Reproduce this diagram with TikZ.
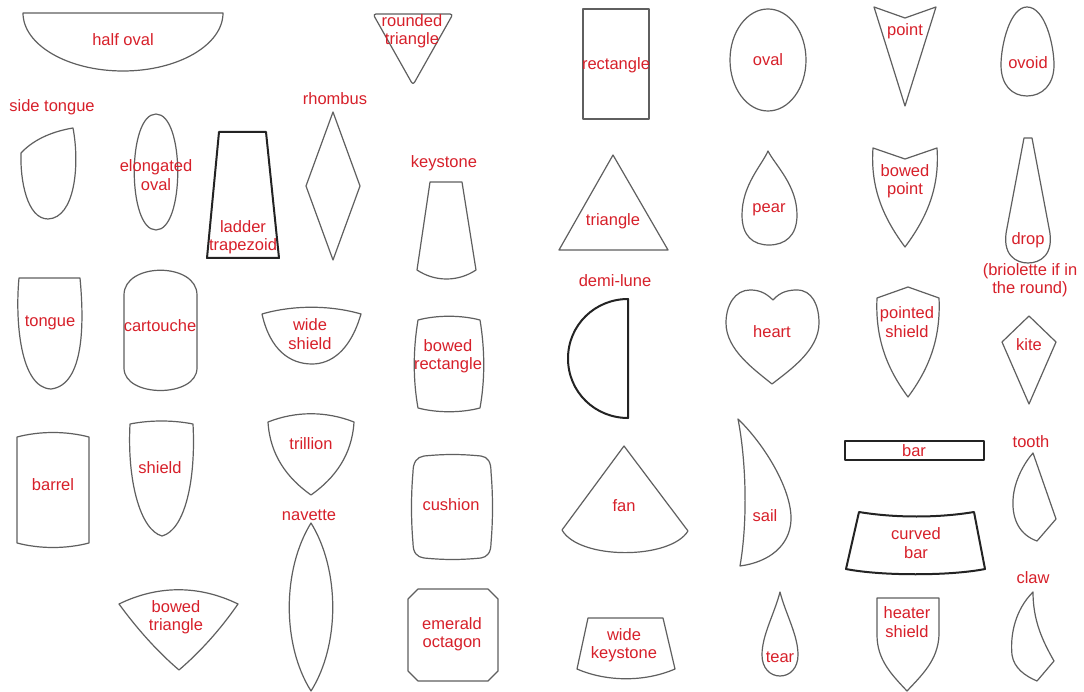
\documentclass[tikz,border=0pt]{standalone}
\usepackage{fontspec}
\setmainfont{Liberation Sans}
\usepackage{tikz}
\usetikzlibrary{positioning}
\definecolor{cutline}{RGB}{95,95,95}
\definecolor{cutdark}{RGB}{35,35,35}
\definecolor{cutred}{RGB}{215,32,42}
\tikzset{
  cut/.style={draw=cutline, line width=1.2pt, line join=round},
  cutbold/.style={draw=cutdark, line width=2pt, line join=round},
  cutname/.style={text=cutred, inner sep=0pt, align=center,
                  font=\fontsize{16.5}{18.5}\selectfont}
}
\begin{document}
\begin{tikzpicture}[x=1pt, y=-1pt]
  \useasboundingbox[fill=white] (0,0) rectangle (1084,692);

  % left half
  \draw[cut] (23,13) .. controls (23,45) and (68,71) .. (123,71) .. controls (178,71) and (223,45) .. (223,13) -- cycle;
  \draw[cut] (21,153) .. controls (35,138) and (55,131) .. (73,128) .. controls (80,165) and (75,218) .. (48,219) .. controls (27,219) and (20,180) .. cycle;
  \draw[cut] (156,114) .. controls (185,114) and (185,230) .. (156,230) .. controls (127,230) and (127,114) .. cycle;
  \draw[cutbold] (219,132) -- (266,132) -- (279,258) -- (207,258) -- cycle;
  \draw[cut, rounded corners=3pt] (373,14) -- (453,14) -- (413,85) -- cycle;
  \draw[cut] (333,112) -- (360,186) -- (333,260) -- (306,186) -- cycle;
  \draw[cut] (430,182) -- (462,182) -- (476,270) .. controls (458,282) and (435,282) .. (417,270) -- cycle;
  \draw[cut] (19,278) -- (80,278) .. controls (84,320) and (85,385) .. (51,389) .. controls (20,388) and (15,320) .. cycle;
  \draw[cut] (124,295) .. controls (124,262) and (197,262) .. (197,295) -- (197,368) .. controls (197,398) and (124,398) .. (124,368) -- cycle;
  \draw[cut] (262,314) .. controls (293,305) and (330,305) .. (361,314) .. controls (350,352) and (330,364) .. (312,364) .. controls (290,364) and (270,350) .. cycle;
  \draw[cut] (418,320) .. controls (437,315) and (461,315) .. (480,320) .. controls (485,350) and (485,380) .. (480,408) .. controls (461,413) and (437,413) .. (418,408) .. controls (413,380) and (413,350) .. cycle;
  \draw[cut] (17,437) .. controls (40,431) and (66,431) .. (89,437) -- (89,543) .. controls (66,549) and (40,549) .. (17,543) -- cycle;
  \draw[cut] (130,424) .. controls (150,420) and (173,420) .. (193,424) .. controls (196,480) and (185,530) .. (162,536) .. controls (140,530) and (127,480) .. cycle;
  \draw[cut] (268,422) .. controls (296,411) and (326,411) .. (354,422) .. controls (352,455) and (335,478) .. (311,495) .. controls (287,478) and (270,455) .. cycle;
  \draw[cut] (311,523) .. controls (340,570) and (340,645) .. (311,691) .. controls (282,645) and (282,570) .. cycle;
  \draw[cut] (424,456) .. controls (445,454) and (460,454) .. (481,456) .. controls (488,457) and (491,462) .. (491,472) .. controls (493,495) and (493,520) .. (491,543) .. controls (491,553) and (487,557) .. (481,558) .. controls (460,560) and (445,560) .. (424,558) .. controls (417,557) and (413,553) .. (413,543) .. controls (411,520) and (411,495) .. (413,472) .. controls (413,462) and (417,457) .. cycle;
  \draw[cut] (119,604) .. controls (158,585) and (199,585) .. (238,604) .. controls (220,630) and (200,652) .. (179,670) .. controls (158,652) and (138,630) .. cycle;
  \draw[cut] (418,589) -- (488,589) -- (498,599) -- (498,671) -- (488,681) -- (418,681) -- (408,671) -- (408,599) -- cycle;

  % right half
  \draw[cut] (583,9) rectangle (649,119);
  \draw[cut] (768,60) ellipse [x radius=38, y radius=51];
  \draw[cut] (874,7) -- (905,18) -- (936,7) -- (905,106) -- cycle;
  \draw[cut] (1027,7) .. controls (1045,7) and (1054,45) .. (1054,65) .. controls (1054,85) and (1042,96) .. (1027,96) .. controls (1012,96) and (1001,85) .. (1001,65) .. controls (1001,45) and (1010,7) .. cycle;
  \draw[cut] (613,155) -- (668,250) -- (559,250) -- cycle;
  \draw[cut] (768,151) .. controls (775,165) and (797,185) .. (797,215) .. controls (797,236) and (785,245) .. (769,245) .. controls (753,245) and (742,236) .. (742,215) .. controls (742,185) and (762,165) .. cycle;
  \draw[cut] (873,148) -- (905,159) -- (937,148) .. controls (940,190) and (925,220) .. (905,247) .. controls (885,220) and (870,190) .. cycle;
  \draw[cut] (1024,138) -- (1032,138) -- (1049,228) .. controls (1055,255) and (1040,263) .. (1028,263) .. controls (1016,263) and (1001,255) .. (1007,228) -- cycle;
  \draw[cutbold] (628,299) -- (628,418) .. controls (595,418) and (568,392) .. (568,358.5) .. controls (568,325) and (595,299) .. cycle;
  \draw[cut] (773,300) .. controls (765,292) and (758,290) .. (750,290) .. controls (735,290) and (726,305) .. (726,323) .. controls (726,350) and (755,370) .. (772,384) .. controls (790,370) and (819,350) .. (819,323) .. controls (819,305) and (812,290) .. (797,290) .. controls (788,290) and (780,292) .. cycle;
  \draw[cut] (908,287) -- (939,298) .. controls (941,340) and (928,370) .. (908,397) .. controls (888,370) and (875,340) .. (877,298) -- cycle;
  \draw[cut] (1029,316) -- (1056,342) -- (1029,404) -- (1002,342) -- cycle;
  \draw[cut] (624,446) -- (688,531) .. controls (670,560) and (579,560) .. (562,530) -- cycle;
  \draw[cut] (738,419) .. controls (765,445) and (792,490) .. (791,520) .. controls (790,545) and (770,562) .. (740,566) .. controls (748,520) and (746,460) .. cycle;
  \draw[cut, draw=cutdark] (845,441) rectangle (984,460);
  \draw[cut] (1033,453) -- (1056,519) -- (1037,541) .. controls (1020,535) and (1012,520) .. (1013,500) .. controls (1014,480) and (1025,462) .. cycle;
  \draw[cutbold] (859,512) .. controls (895,518) and (938,518) .. (974,512) -- (985,569) .. controls (950,576) and (881,576) .. (846,569) -- cycle;
  \draw[cut] (588,618) -- (663,618) -- (675,669) .. controls (645,682) and (607,682) .. (577,669) -- cycle;
  \draw[cut] (780,592) .. controls (786,615) and (798,635) .. (798,655) .. controls (798,668) and (790,676) .. (780,676) .. controls (770,676) and (762,668) .. (762,655) .. controls (762,635) and (774,615) .. cycle;
  \draw[cut] (877,598) -- (939,598) -- (939,635) .. controls (938,660) and (922,675) .. (907,691) .. controls (892,675) and (877,660) .. (877,635) -- cycle;
  \draw[cut] (1033,592) .. controls (1015,610) and (1010,635) .. (1012,655) .. controls (1014,668) and (1025,676) .. (1037,681) -- (1054,661) .. controls (1042,640) and (1033,620) .. cycle;

  % names
  \node[cutname] (halfoval) at (123,40) {half oval};
  \node[cutname] (sidetongue) at (52,107) {side tongue};
  \node[cutname] (elongoval) at (156,175) {elongated\\oval};
  \node[cutname] (ladder) at (243,237) {ladder\\trapezoid};
  \node[cutname] (roundtri) at (412,31) {rounded\\triangle};
  \node[cutname] (rhombus) at (335,99) {rhombus};
  \node[cutname] (keystone) at (444,163) {keystone};
  \node[cutname] (tongue) at (50,323) {tongue};
  \node[cutname] (cartouche) at (160,326) {cartouche};
  \node[cutname] (wideshield) at (310,334) {wide\\shield};
  \node[cutname] (bowedrect) at (448,356) {bowed\\rectangle};
  \node[cutname] (barrel) at (53,485) {barrel};
  \node[cutname] (shield) at (160,468) {shield};
  \node[cutname] (trillion) at (311,444) {trillion};
  \node[cutname] (navette) at (309,515) {navette};
  \node[cutname] (cushion) at (451,505) {cushion};
  \node[cutname] (bowedtri) at (176,617) {bowed\\triangle};
  \node[cutname] (emerald) at (452,634) {emerald\\octagon};
  \node[cutname] (rect) at (616,65) {rectangle};
  \node[cutname] (oval) at (768,60) {oval};
  \node[cutname] (point) at (905,31) {point};
  \node[cutname] (ovoid) at (1028,63) {ovoid};
  \node[cutname] (triangle) at (613,221) {triangle};
  \node[cutname] (pear) at (769,210) {pear};
  \node[cutname] (bowedpoint) at (905,181) {bowed\\point};
  \node[cutname] (drop) at (1028,240) {drop};
  \node[cutname] (briolette) at (1030,280) {(briolette if in\\the round)};
  \node[cutname] (demilune) at (615,281) {demi-lune};
  \node[cutname] (heart) at (772,332) {heart};
  \node[cutname] (pointedshield) at (907,322) {pointed\\shield};
  \node[cutname] (kite) at (1029,345) {kite};
  \node[cutname] (fan) at (624,506) {fan};
  \node[cutname] (sail) at (765,516) {sail};
  \node[cutname] (bar) at (914,451) {bar};
  \node[cutname] (tooth) at (1031,442) {tooth};
  \node[cutname] (curvedbar) at (916,543) {curved\\bar};
  \node[cutname] (widekey) at (624,645) {wide\\keystone};
  \node[cutname] (tear) at (780,657) {tear};
  \node[cutname] (heater) at (907,622) {heater\\shield};
  \node[cutname] (claw) at (1033,578) {claw};
\end{tikzpicture}
\end{document}
